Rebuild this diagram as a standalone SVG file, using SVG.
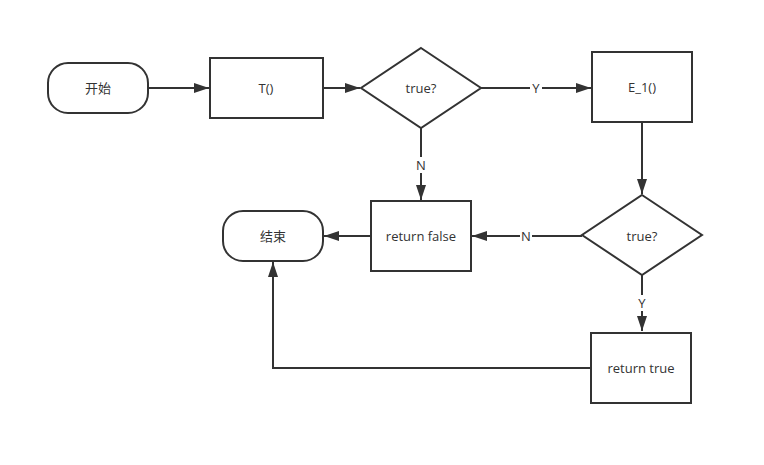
<svg xmlns="http://www.w3.org/2000/svg" width="764" height="465" viewBox="0 0 764 465">
<style>
.s{fill:#fff;stroke:#333;stroke-width:2}
.t{font-family:"Open Sans","Noto Sans CJK SC",sans-serif;font-size:13px;fill:#333;text-anchor:middle;dominant-baseline:central}
.c{fill:none;stroke:#333;stroke-width:2}
.lb{fill:#fff}
</style>
<defs>
<marker id="a" viewBox="0 0 15 10" refX="15" refY="5" markerWidth="15" markerHeight="10" markerUnits="userSpaceOnUse" orient="auto">
<path d="M0,0 L15,5 L0,10 z" fill="#333"/>
</marker>
</defs>
<rect width="764" height="465" fill="#fff"/>
<g id="edges">
<path class="c" d="M148,88 H209" marker-end="url(#a)"/>
<path class="c" d="M323,88 H360" marker-end="url(#a)"/>
<path class="c" d="M481,88 H591" marker-end="url(#a)"/>
<path class="c" d="M642,122 V194" marker-end="url(#a)"/>
<path class="c" d="M421,128 V200" marker-end="url(#a)"/>
<path class="c" d="M582,236 H472" marker-end="url(#a)"/>
<path class="c" d="M371,236 H324" marker-end="url(#a)"/>
<path class="c" d="M642,275 V331" marker-end="url(#a)"/>
<path class="c" d="M591,368 H273 V262" marker-end="url(#a)"/>
<rect class="lb" x="530" y="80" width="12" height="16"/>
<text class="t" x="536" y="88">Y</text>
<rect class="lb" x="415" y="157" width="12" height="16"/>
<text class="t" x="421" y="165">N</text>
<rect class="lb" x="520" y="228" width="12" height="16"/>
<text class="t" x="526" y="236">N</text>
<rect class="lb" x="636" y="295" width="12" height="16"/>
<text class="t" x="642" y="303">Y</text>
</g>
<g id="start"><rect class="s" x="48" y="63" width="100" height="50" rx="20" ry="20"/><text class="t" x="98" y="88">开始</text></g>
<g id="t"><rect class="s" x="210" y="58" width="113" height="60"/><text class="t" x="266" y="88">T()</text></g>
<g id="cond1"><path class="s" d="M421,48 L481,88 L421,128 L361,88 Z"/><text class="t" x="421" y="88">true?</text></g>
<g id="e1"><rect class="s" x="592" y="52" width="100" height="70"/><text class="t" x="642" y="87">E_1()</text></g>
<g id="cond2"><path class="s" d="M642,195 L702,235 L642,275 L582,235 Z"/><text class="t" x="642" y="236">true?</text></g>
<g id="rf"><rect class="s" x="371" y="201" width="100" height="70"/><text class="t" x="421" y="236">return false</text></g>
<g id="end"><rect class="s" x="223" y="211" width="100" height="50" rx="20" ry="20"/><text class="t" x="273" y="236">结束</text></g>
<g id="rt"><rect class="s" x="591" y="333" width="100" height="70"/><text class="t" x="641" y="368">return true</text></g>
</svg>
